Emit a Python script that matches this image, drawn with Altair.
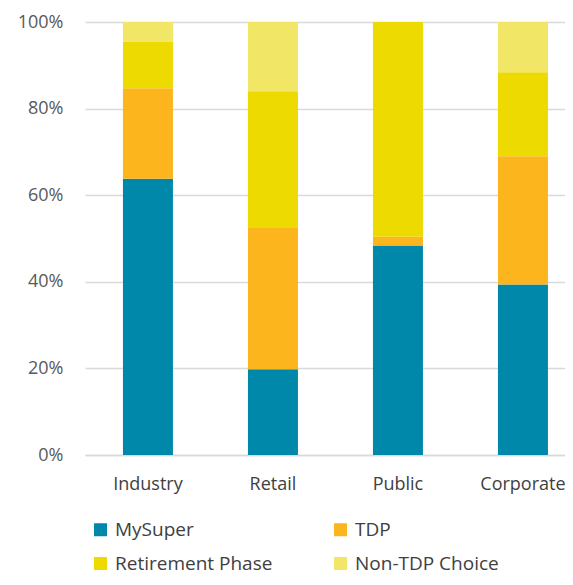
import altair as alt
import pandas as pd

categories = ["Industry", "Retail", "Public", "Corporate"]
series = ["MySuper", "TDP", "Retirement Phase", "Non-TDP Choice"]
colors = ["#0088AB", "#FDB51E", "#ECDA00", "#F2E666"]

mysuper = [63.8, 19.8, 48.4, 39.4]
tdp = [20.9, 32.6, 2.0, 29.6]
retirement = [10.8, 31.6, 49.6, 19.4]
non_tdp = [4.5, 16.0, 0.0, 11.6]

rows = []
for s_i, (name, vals) in enumerate(zip(series, [mysuper, tdp, retirement, non_tdp])):
    for c, v in zip(categories, vals):
        rows.append({"cat": c, "series": name, "value": v, "idx": s_i})
df = pd.DataFrame(rows)

FONT = "Open Sans"

chart = alt.Chart(df).mark_bar().encode(
    x=alt.X("cat:N", sort=categories, title=None,
            scale=alt.Scale(paddingInner=0.6, paddingOuter=0.22, align=0.69),
            axis=alt.Axis(labelAngle=0, labelFontSize=18, labelColor="#404040",
                          labelFont=FONT, ticks=False, domainColor="#D9D9D9",
                          domainWidth=1.5, labelPadding=20)),
    y=alt.Y("value:Q", stack="normalize", title=None,
            scale=alt.Scale(domain=[0, 1]),
            axis=alt.Axis(format=".0%", values=[0, 0.2, 0.4, 0.6, 0.8, 1.0],
                          labelFontSize=18, labelColor="#595959", labelFont=FONT,
                          ticks=False, domain=False, gridColor="#D9D9D9",
                          gridWidth=1.5, labelPadding=22)),
    color=alt.Color("series:N", sort=series,
                    scale=alt.Scale(domain=series, range=colors),
                    legend=alt.Legend(orient="none", legendX=6, legendY=498,
                                      direction="horizontal",
                                      columns=2, title=None, symbolType="square",
                                      symbolSize=169, symbolStrokeWidth=0,
                                      labelFontSize=19, labelColor="#404040",
                                      labelFont=FONT, labelOffset=5,
                                      columnPadding=58, rowPadding=14)),
    order=alt.Order("idx:Q", sort="ascending"),
).properties(
    width=480, height=433,
    autosize=alt.AutoSizeParams(type="none"),
    padding={"left": 77, "top": 14, "right": 0, "bottom": 122},
).configure_view(stroke=None)

chart.save("out.html", embed_options={"renderer": "svg", "actions": False})
